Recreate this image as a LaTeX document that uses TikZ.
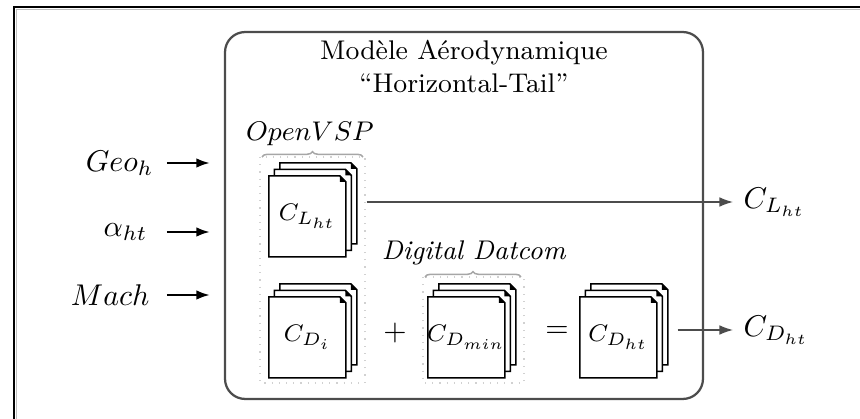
\documentclass[tikz,border=0pt]{standalone}
\usepackage{amsmath}
\usetikzlibrary{arrows.meta, decorations.pathreplacing, positioning}

\begin{document}
\begin{tikzpicture}[x=0.3333pt, y=-0.3333pt,
        page/.style={draw=black, fill=white, line width=0.5pt, line join=miter},
        inarrow/.style={-{Latex[length=4.5pt,width=3.2pt]}, line width=0.65pt, shorten >=4.7pt},
        outarrow/.style={-{Latex[length=4.5pt,width=3.2pt]}, draw=black!70, line width=0.4pt},
        toolbox/.style={draw=black!18, dotted, line width=0.4pt},
        toolbrace/.style={draw=black!35, line width=0.5pt, decorate, decoration={brace, amplitude=1.8pt}},
        docstack/.pic={
            \foreach \k in {2,1,0}{
                \begin{scope}[shift={(5.5*\k,-6.5*\k)}]
                    \filldraw[page] (0,0) -- (71,0) -- (77,6) -- (77,81) -- (0,81) -- cycle;
                    \fill (71,0) -- (77,6) -- (71,6) -- cycle;
                \end{scope}
            }
            \node[minimum width=25.67pt, minimum height=27pt, inner sep=0pt] (-page) at (38.5,40.5) {\footnotesize #1};
        }]
        \useasboundingbox (0,0) rectangle (860,419);
        \draw[black!25, line width=0.6pt] (16.5,419) -- (16.5,9.5) -- (860,9.5);
        \draw[line width=0.7pt] (14,419) -- (14,7) -- (860,7);

        \node[draw=black!70, line width=0.75pt, rounded corners=6.7pt,
            minimum width=159.3pt, minimum height=122.3pt] (model) at (464,215.5) {};
        \node[align=center, font=\small] (title) at (464,66)
            {Modèle Aérodynamique\\``Horizontal-Tail''};

        \draw[toolbox] (260,157) rectangle (365,383);
        \draw[toolbrace] (262,157) -- (363,157);
        \node[font=\small] (vsp) at (310,134) {$Open VSP$};
        \draw[toolbox] (423,277) rectangle (524,383);
        \draw[toolbrace] (425,277) -- (521,277);
        \node[font=\small] (datcom) at (474,253) {\textit{Digital Datcom}};

        \pic (cl) at (269,176) {docstack={$C_{L_{ht}}$}};
        \pic (cdi) at (269,297) {docstack={$C_{D_i}$}};
        \pic (cdmin) at (428,297) {docstack={$C_{D_{min}}$}};
        \pic (cdht) at (580,297) {docstack={$C_{D_{ht}}$}};
        \node (plus) at (395,333) {$+$};
        \node (equal) at (557,332) {$=$};

        \node[anchor=east] (geo) at (164,163) {$Geo_h$};
        \node[anchor=east] (alpha) at (158,232) {$\alpha_{ht}$};
        \node[anchor=east] (mach) at (160,295) {$Mach$};
        \coordinate (ins) at (167,0);
        \draw[inarrow] (geo -| ins) -- (geo -| model.west);
        \draw[inarrow] (alpha -| ins) -- (alpha -| model.west);
        \draw[inarrow] (mach -| ins) -- (mach -| model.west);

        \node[anchor=west] (clout) at (733,202) {$C_{L_{ht}}$};
        \node[anchor=west] (cdout) at (733,330) {$C_{D_{ht}}$};
        \draw[outarrow, shorten <=6.7pt] (cl-page.east |- clout) -- (clout);
        \draw[outarrow, shorten <=6.7pt] (cdht-page.east |- cdout) -- (cdout);
\end{tikzpicture}
\end{document}
